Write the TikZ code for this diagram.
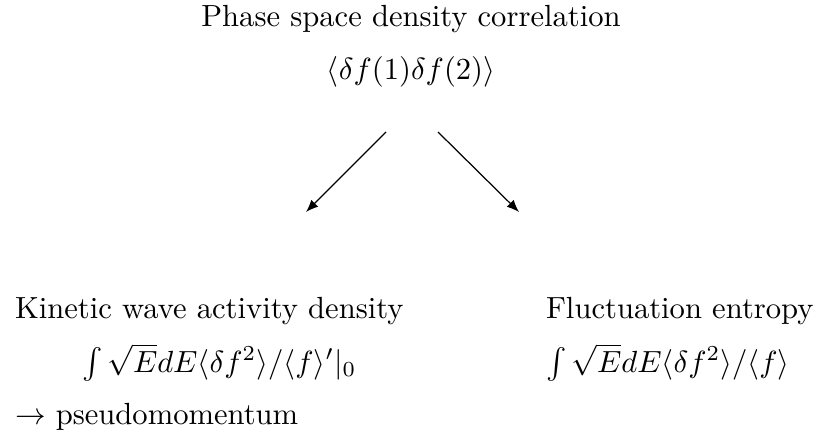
\documentclass[tikz,border=0pt]{standalone}
\usetikzlibrary{arrows.meta}
\begin{document}
\begin{tikzpicture}[x=0.3268pt,y=-0.3268pt,
  lbl/.style={inner sep=0pt,outer sep=0pt},
  conn/.style={line width=0.4pt,-{Latex[length=4pt,width=3.2pt]}}]
\useasboundingbox (0,0) rectangle (822,436);
% top
\node[lbl,anchor=base] (title) at (411,27) {Phase space density correlation};
\node[lbl,anchor=base] (corr) at (411,80) {$\langle\delta f(1)\delta f(2)\rangle$};
% left column
\node[lbl,anchor=base west] (kin) at (15,318) {Kinetic wave activity density};
\node[lbl,anchor=base west] (kinf) at (82,372) {$\int\sqrt{E}dE\langle\delta f^2\rangle/\langle f\rangle'|_0$};
\node[lbl,anchor=base west] (pseudo) at (15,424) {$\to$ pseudomomentum};
% right column
\node[lbl,anchor=base west] (fluc) at (546,318) {Fluctuation entropy};
\node[lbl,anchor=base west] (flucf) at (546,372) {$\int\sqrt{E}dE\langle\delta f^2\rangle/\langle f\rangle$};
% arrows
\coordinate (ls) at (386,132);
\coordinate (le) at (306,212);
\coordinate (rs) at (438,132);
\coordinate (re) at (519,212);
\draw[conn] (ls) -- (le);
\draw[conn] (rs) -- (re);
\end{tikzpicture}
\end{document}
